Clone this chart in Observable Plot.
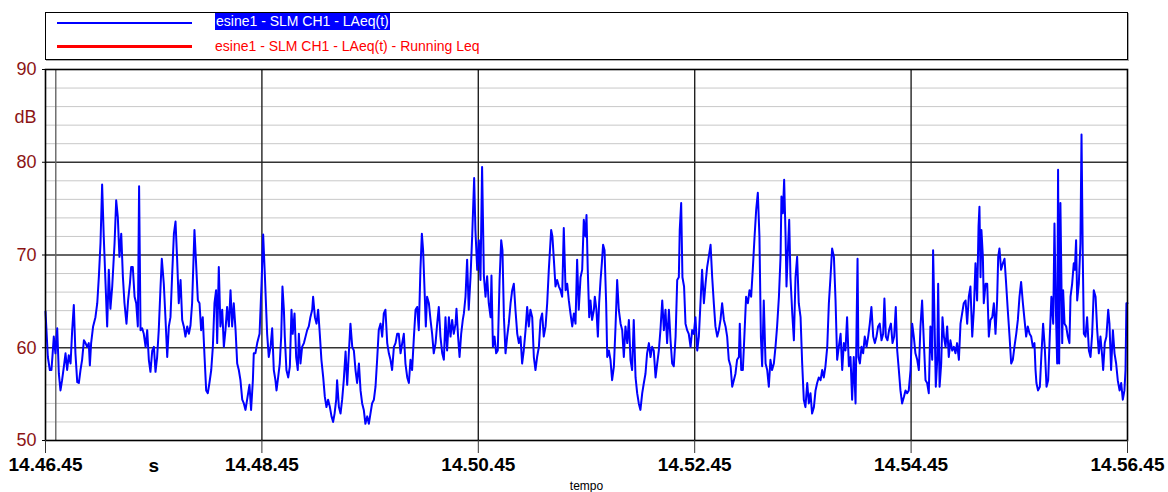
<!DOCTYPE html>
<html>
<head>
<meta charset="utf-8">
<script src="https://cdn.jsdelivr.net/npm/d3@7"></script>
<script src="https://cdn.jsdelivr.net/npm/@observablehq/plot@0.6"></script>
<style>
  html, body { margin: 0; padding: 0; background: #fff; width: 1168px; height: 492px; overflow: hidden; }
  body { position: relative; font-family: "Liberation Sans", Arial, sans-serif; }
  #legend { position: absolute; left: 45px; top: 12px; width: 1081px; height: 46px; border: 1px solid #000; box-shadow: 1px 1px 0 #aaa; background: #fff; }
  .sw { position: absolute; left: 11px; width: 135px; }
  .lt { position: absolute; left: 169px; font-size: 14px; line-height: 17px; white-space: nowrap; }
  #chart { position: absolute; left: 0; top: 62px; }
</style>
</head>
<body>
<div id="legend"></div>
<div id="chart"></div>
<script>
// ---- series names / colours ----
const seriesNames = ["esine1 - SLM CH1 - LAeq(t)", "esine1 - SLM CH1 - LAeq(t) - Running Leq"];
const seriesColors = ["#0000ff", "#ff0000"];

// ---- axis ticks ----
const xTicks = [0, 120, 240, 360, 480, 600];           // seconds from 14.46.45
const xTickLabels = ["14.46.45", "14.48.45", "14.50.45", "14.52.45", "14.54.45", "14.56.45"];
const xUnit = [{t: 60, text: "s"}];
const xTitle = "tempo";
const cursorAt = [5.7];
const yTicks = [50, 60, 70, 80, 90];
const yMajorGrid = [60, 70, 80];
const yMinorGrid = [52, 54, 56, 58, 62, 64, 66, 68, 72, 74, 76, 78, 82, 84, 86, 88];
const yUnit = "dB";

// ---- LAeq(t) readings [seconds from 14.46.45, dB] ----
const laeq_1446 = [[0,63.9],[1.3,59.0],[2.4,57.6],[3.3,57.6],[3.9,59.2],[4.6,61.2],[5.5,59.4],[6.5,62.1],[7.4,57.2],[8.3,55.4],[9.2,56.5],[10.2,58.0],[11.1,59.4],[12.0,57.6],[12.9,59.2],[13.9,58.3],[14.8,61.9],[15.7,64.6],[16.6,59.4],[17.6,56.3],[18.5,56.2],[19.4,57.6],[20.3,58.7],[21.3,60.8],[22.2,60.5],[23.1,60.1],[24.0,60.5],[24.6,58.1],[25.3,60.5],[26.4,62.3],[27.7,63.3],[28.7,64.8],[29.6,67.7],[30.5,71.3],[31.4,77.6],[32.3,72.0],[33.3,66.9],[34.2,62.3],[35.1,68.4],[36.0,64.2],[37.0,66.6],[38.3,71.3],[39.2,75.9],[40.1,74.1],[41.0,69.8],[42.0,72.3],[42.9,67.7],[43.8,64.8],[44.9,62.6],[45.8,65.1],[46.8,66.9],[47.5,68.7],[48.4,68.7],[49.4,65.5],[50.3,64.8],[51.2,62.3],[51.9,77.4],[52.7,61.9],[53.6,62.1],[54.5,61.5],[55.5,60.1],[56.4,61.9],[57.3,58.7],[58.2,57.4],[59.2,59.7],[60.1,60.1],[61.0,57.4],[61.9,59.0],[62.8,61.9],[63.8,66.6],[64.5,69.6],[65.6,66.9],[66.5,63.3],[67.5,59.0],[68.4,62.3],[69.3,63.3],[70.2,67.7],[71.2,72.3],[72.1,73.6],[73.0,69.5],[73.9,64.8],[74.9,67.3],[75.8,63.0],[76.7,62.3],[77.6,61.2],[78.6,62.3],[79.5,61.5],[80.4,62.4],[81.3,64.8],[82.6,72.7],[83.5,69.1],[84.5,65.1],[85.4,64.8],[86.3,61.9],[87.2,63.3],[88.2,59.0],[89.1,55.4],[90.0,55.1],[90.9,56.2],[91.9,57.6],[92.8,60.1],[93.7,64.8],[94.6,66.2],[95.2,60.5],[96.1,68.7],[97.0,62.3],[98.0,64.1],[98.9,60.1],[99.8,61.9],[100.7,64.4],[101.7,62.3],[102.6,66.2],[103.5,62.3],[104.4,64.8],[105.4,61.9],[106.3,58.3],[107.2,57.6],[108.1,56.5],[109.1,54.4],[110.0,54.0],[110.9,53.3],[111.8,54.4],[113.1,56.0],[114.0,53.3],[115.0,56.5],[115.5,59.4],[116.4,59.4],[117.4,60.5],[118.7,61.5],[119.8,66.9]];

const laeq_1448 = [[120.7,72.2],[121.6,68.0],[122.9,61.5],[123.8,59.0],[124.8,60.1],[125.7,62.1],[126.6,57.6],[127.5,56.5],[128.1,55.4],[129.0,56.8],[129.9,58.3],[130.7,61.2],[131.4,66.6],[132.2,64.1],[132.7,61.2],[133.6,57.6],[134.6,56.8],[135.5,58.0],[136.4,64.1],[137.1,61.5],[138.1,63.7],[139.0,59.0],[139.9,57.6],[140.5,61.5],[141.4,58.3],[142.3,60.1],[143.3,60.5],[144.2,61.2],[145.1,61.9],[146.0,62.3],[146.9,63.3],[147.9,64.1],[148.4,65.5],[149.4,63.3],[150.3,62.6],[151.2,64.1],[152.1,61.5],[153.0,58.7],[154.0,56.8],[154.9,54.7],[155.8,53.6],[156.7,54.4],[157.7,53.6],[158.6,52.6],[159.5,52.0],[160.3,52.9],[161.2,54.4],[161.7,56.5],[162.7,53.6],[163.6,52.9],[164.5,54.4],[165.4,56.5],[166.4,59.6],[167.3,56.0],[168.2,59.4],[169.1,62.6],[170.1,60.1],[171.0,59.7],[171.9,57.6],[172.8,56.2],[173.8,58.3],[174.7,55.4],[175.6,54.0],[176.5,53.3],[177.4,51.8],[178.4,52.6],[179.3,51.8],[180.2,52.9],[181.1,54.0],[182.1,54.4],[183.0,55.8],[183.9,58.7],[184.8,61.9],[185.8,62.6],[186.7,61.2],[187.6,63.7],[188.5,64.1],[189.5,60.5],[190.4,59.4],[191.3,58.7],[192.2,57.6],[193.2,60.1],[194.1,60.5],[195.0,61.5],[195.9,61.5],[196.9,59.4],[197.8,60.5],[198.7,61.5],[199.6,58.3],[200.6,56.8],[201.5,56.2],[202.4,58.7],[203.3,57.6],[204.3,61.2],[205.2,64.1],[206.1,64.4],[207.0,61.9],[207.9,68.4],[208.7,72.3],[209.4,70.5],[210.2,66.2],[210.9,62.3],[211.6,65.5],[212.6,64.8],[213.5,63.0],[214.4,61.5],[215.3,59.4],[216.3,60.5],[217.2,62.6],[218.1,64.4],[219.0,61.2],[220.0,59.4],[220.9,58.7],[221.8,63.3],[222.7,59.7],[223.7,63.3],[224.6,61.2],[225.5,63.0],[226.4,61.5],[227.4,62.6],[227.9,64.2],[228.8,61.2],[229.6,59.0],[230.5,61.5],[231.4,63.0],[232.0,63.7],[232.9,65.5],[233.8,69.5],[234.7,64.1],[235.7,67.7],[236.6,72.0],[237.7,78.3],[238.4,72.7],[239.4,68.4]];

const laeq_1450 = [[240.3,71.6],[241.2,67.3],[242.1,79.5],[243.1,67.7],[244.0,65.5],[244.9,67.7],[245.8,64.8],[246.8,63.3],[247.3,67.8],[248.1,60.1],[249.0,61.2],[249.9,59.4],[250.8,59.7],[251.8,67.3],[252.7,71.6],[253.4,70.5],[254.2,63.3],[255.1,59.4],[256.0,61.2],[256.9,62.6],[257.9,64.8],[258.8,66.2],[259.7,66.9],[260.6,64.1],[261.6,61.5],[262.5,60.5],[263.4,61.2],[264.3,58.3],[265.2,59.7],[266.2,61.9],[267.1,64.4],[268.0,62.3],[268.9,64.1],[269.9,63.3],[270.8,59.0],[271.7,57.6],[272.6,59.0],[273.6,60.1],[274.5,63.0],[275.4,63.7],[276.3,61.2],[277.3,62.3],[278.2,64.8],[279.1,68.4],[280.4,72.7],[281.1,72.0],[281.9,69.5],[282.8,66.6],[283.7,67.3],[284.7,66.6],[285.6,66.2],[286.5,65.5],[287.4,72.9],[288.4,66.2],[289.3,66.9],[290.2,65.1],[291.1,63.7],[292.1,62.3],[293.0,63.7],[293.9,62.6],[294.8,69.5],[295.7,64.1],[296.7,67.6],[297.6,68.4],[298.5,73.8],[299.4,72.0],[300.0,74.3],[300.7,68.4],[301.5,63.3],[302.2,65.1],[303.1,63.0],[304.1,64.1],[304.6,65.5],[305.5,64.1],[306.3,61.2],[307.0,64.8],[307.8,67.3],[308.5,69.1],[309.2,71.1],[310.0,70.5],[310.9,64.8],[311.5,59.0],[312.4,59.7],[313.3,58.7],[314.2,56.5],[315.2,58.0],[316.1,62.3],[317.0,67.3],[317.9,64.1],[318.9,62.6],[319.8,61.9],[320.7,59.0],[321.6,62.3],[322.6,60.5],[323.5,63.0],[324.4,58.7],[325.3,57.6],[326.2,63.0],[327.2,56.8],[328.1,55.1],[329.0,54.0],[329.9,53.3],[330.9,55.1],[331.8,56.2],[332.7,57.2],[333.6,59.4],[334.6,60.5],[335.5,59.0],[336.4,60.1],[337.3,59.7],[338.3,56.8],[339.2,58.3],[340.1,59.7],[341.0,61.9],[342.0,65.1],[342.9,61.9],[343.8,64.1],[344.7,60.5],[345.7,64.1],[346.6,60.8],[347.5,58.3],[348.4,58.0],[349.4,61.2],[350.3,67.3],[351.2,67.6],[351.7,72.7],[352.5,75.6],[353.2,67.6],[354.1,66.6],[354.9,62.6],[355.8,61.9],[356.7,61.5],[357.7,60.1],[358.6,61.9],[359.5,61.5]];

const laeq_1452 = [[360.4,63.3],[361.4,59.7],[362.3,61.2],[363.2,64.8],[364.1,68.4],[365.1,64.8],[366.0,66.9],[366.9,68.7],[367.8,69.8],[368.8,71.1],[369.7,67.6],[370.6,64.8],[371.5,62.3],[372.5,61.2],[373.4,61.9],[374.3,63.0],[375.2,64.8],[376.2,63.0],[377.1,62.3],[378.0,61.2],[378.9,58.7],[379.9,58.0],[380.8,55.8],[381.7,56.5],[382.6,57.2],[383.5,58.7],[384.5,59.0],[385.0,62.6],[385.8,57.6],[386.7,57.6],[387.6,61.5],[388.5,65.5],[389.5,64.8],[390.4,66.2],[391.3,65.5],[392.2,68.4],[393.2,72.0],[394.1,74.9],[395.0,76.7],[395.9,72.0],[396.7,61.2],[397.4,58.0],[398.3,65.1],[399.3,58.3],[400.2,57.6],[401.1,55.8],[402.0,58.7],[402.9,57.6],[403.9,58.3],[404.8,60.1],[405.7,62.3],[406.7,65.5],[407.6,69.8],[408.1,76.3],[408.9,74.5],[409.6,78.1],[410.4,72.0],[410.9,66.6],[411.6,70.2],[412.4,73.8],[413.1,67.6],[414.1,63.7],[415.0,60.8],[415.9,67.6],[416.8,69.8],[417.7,64.8],[418.7,63.3],[419.6,58.3],[420.5,54.4],[421.4,53.6],[422.4,56.2],[423.3,54.0],[424.2,55.1],[425.1,52.9],[426.1,53.6],[427.0,55.4],[427.9,56.2],[428.8,56.8],[429.8,56.5],[430.7,57.6],[431.6,56.8],[432.5,58.0],[433.5,60.1],[434.4,64.8],[435.3,67.6],[436.2,70.7],[437.2,69.8],[438.1,65.1],[439.0,58.7],[439.9,60.1],[440.9,61.5],[441.8,57.6],[442.7,60.5],[443.6,59.7],[444.5,63.3],[445.5,58.0],[446.4,59.0],[447.3,54.4],[448.2,59.0],[449.2,54.0],[449.7,61.5],[450.3,69.6],[450.8,59.0],[451.6,58.3],[452.5,60.1],[453.4,59.4],[454.3,61.2],[455.3,60.1],[456.2,61.2],[457.1,62.6],[458.0,64.4],[459.0,61.2],[459.9,60.5],[460.8,61.2],[461.7,62.3],[462.6,62.6],[463.6,60.8],[464.5,61.5],[465.2,65.3],[466.0,61.2],[466.9,60.8],[467.8,61.9],[468.8,62.6],[469.7,60.5],[470.6,61.2],[471.5,64.4],[472.3,59.7],[473.2,57.6],[474.1,55.4],[475.0,54.0],[476.0,54.7],[476.9,55.4],[477.8,55.1],[478.7,55.4],[479.7,57.6]];

const laeq_1454 = [[480.6,62.6],[481.5,61.2],[482.4,59.4],[483.4,58.7],[484.3,57.6],[485.2,62.3],[486.1,65.1],[487.1,60.5],[488.0,56.5],[488.9,56.2],[489.8,55.1],[490.7,62.3],[491.7,58.7],[492.2,70.5],[493.0,62.9],[493.7,55.8],[494.5,58.7],[495.0,66.9],[495.8,55.8],[496.7,58.3],[497.4,63.3],[498.2,61.2],[499.1,60.1],[500.0,62.3],[500.9,59.0],[501.8,60.8],[502.8,59.7],[503.7,60.1],[504.6,59.4],[505.5,60.5],[506.5,58.7],[507.4,62.6],[508.3,63.7],[509.2,64.8],[510.2,65.1],[511.1,62.6],[512.0,65.5],[512.9,66.6],[513.9,61.2],[514.8,64.1],[515.7,69.1],[516.6,65.1],[517.4,73.1],[517.9,75.2],[518.5,67.6],[519.0,72.7],[519.8,69.8],[520.3,64.8],[521.3,66.9],[522.2,66.9],[523.1,61.2],[524.0,63.0],[525.0,63.3],[525.9,64.8],[526.8,61.5],[527.7,65.1],[528.3,69.8],[529.0,70.7],[529.9,68.4],[530.9,69.1],[531.8,69.6],[532.7,66.9],[533.6,64.1],[534.6,61.2],[535.5,58.3],[536.4,58.7],[537.3,60.1],[538.3,61.5],[539.2,63.0],[540.1,65.5],[541.0,67.1],[542.0,64.8],[542.9,63.0],[543.8,61.2],[544.7,62.3],[545.7,61.5],[546.6,61.2],[547.5,60.1],[548.4,60.5],[549.0,57.6],[549.5,56.2],[550.4,55.4],[551.4,55.8],[552.3,59.4],[553.2,62.6],[554.1,60.1],[555.1,55.8],[556.0,56.5],[556.9,61.2],[557.8,65.5],[558.8,62.6],[559.5,73.4],[560.2,64.8],[561.0,58.3],[561.5,79.2],[562.1,58.3],[562.8,75.6],[563.8,60.5],[564.3,66.2],[565.1,62.6],[566.0,62.3],[566.9,61.2],[567.8,60.5],[568.4,65.5],[569.3,66.9],[570.2,69.1],[570.8,68.4],[571.5,71.6],[572.1,65.1],[573.0,66.9],[573.9,71.3],[574.5,83.0],[575.2,69.8],[575.8,61.5],[576.7,61.2],[577.6,63.3],[578.6,59.7],[579.5,59.0],[580.4,61.5],[581.3,66.2],[582.3,65.5],[583.2,61.9],[584.1,59.4],[585.0,61.2],[586.0,59.0],[586.5,57.6],[587.4,60.5],[588.3,61.2],[589.3,64.1],[590.0,62.6],[590.9,57.6],[591.9,61.9],[592.8,59.4],[593.7,58.3],[594.6,56.5],[595.6,55.4],[596.5,56.2],[597.4,54.4],[598.3,55.4],[598.9,57.6],[599.4,64.8],[600.0,64.8]];

// ---- legend ----
const legend = document.getElementById("legend");
legend.innerHTML = `
  <div class="sw" style="top:9px;height:2px;background:${seriesColors[0]}"></div>
  <div class="lt" style="top:0px;background:${seriesColors[0]};color:#fff;padding:0 1px">${seriesNames[0]}</div>
  <div class="sw" style="top:32px;height:3px;background:${seriesColors[1]}"></div>
  <div class="lt" style="top:25px;color:${seriesColors[1]}">${seriesNames[1]}</div>`;

// ---- chart ----
const data = [...laeq_1446, ...laeq_1448, ...laeq_1450, ...laeq_1452, ...laeq_1454].map(([t, v]) => ({t, v}));
const tickLabel = new Map(xTicks.map((t, i) => [t, xTickLabels[i]]));
const darkRed = "#8c1414";

const chart = Plot.plot({
  width: 1168,
  height: 430,
  marginTop: 7,
  marginBottom: 52,
  marginLeft: 45,
  marginRight: 41,
  style: {fontFamily: "'Liberation Sans', Arial, sans-serif", background: "#fff", overflow: "visible"},
  x: {domain: [0, 600]},
  y: {domain: [50, 90]},
  marks: [
    Plot.ruleY(yMinorGrid, {stroke: "#c8c8c8", strokeWidth: 1}),
    Plot.ruleY(yMajorGrid, {stroke: "#333", strokeWidth: 1.4}),
    Plot.ruleX(xTicks.slice(1, -1), {stroke: "#222", strokeWidth: 1.4}),
    Plot.ruleX(cursorAt, {stroke: "#666", strokeWidth: 1.4}),
    Plot.line(data, {x: "t", y: "v", stroke: seriesColors[0], strokeWidth: 2, strokeLinejoin: "round"}),
    Plot.frame({stroke: "#000", strokeWidth: 1.6}),
    Plot.axisX({ticks: xTicks, tickFormat: (d) => tickLabel.get(d), tickSize: 13, tickPadding: 4, fontSize: 19, fontWeight: "bold", fill: "#000", stroke: "#333", label: null}),
    Plot.text(xUnit, {x: "t", text: "text", frameAnchor: "bottom", lineAnchor: "middle", dy: 25, fontSize: 19, fontWeight: "bold", fill: "#000"}),
    Plot.text([xTitle], {frameAnchor: "bottom", lineAnchor: "middle", dy: 46, fontSize: 12, fill: "#000"}),
    Plot.axisY({ticks: yTicks, tickSize: 3, text: null, stroke: "#000", label: null}),
    Plot.axisY({ticks: yTicks, tickSize: 0, tickPadding: 9, fontSize: 18, fill: darkRed, label: null}),
    Plot.text([yUnit], {frameAnchor: "top-left", lineAnchor: "middle", dx: -9, dy: 48, textAnchor: "end", fontSize: 18, fill: darkRed})
  ]
});
document.getElementById("chart").appendChild(chart);
</script>
</body>
</html>
